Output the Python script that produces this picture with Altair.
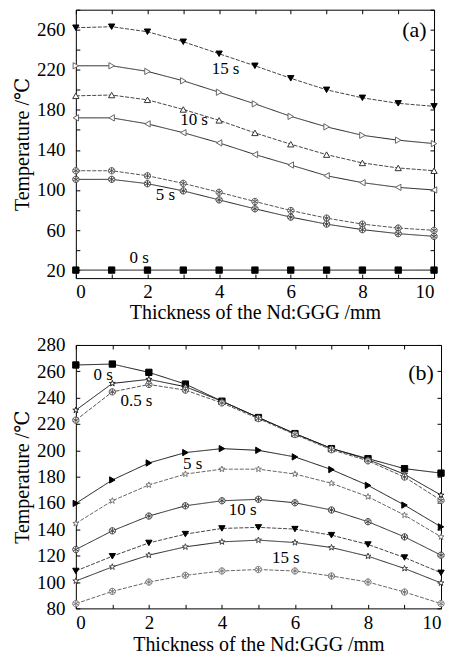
import altair as alt
import pandas as pd

thickness = [0, 1, 2, 3, 4, 5, 6, 7, 8, 9, 10]

# ---- panel (a) ----
a_names = ["a15", "a12", "a10", "a8", "a5u", "a5l", "a0"]
a_15 = [262, 263, 258, 248, 236, 224, 211.5, 200, 192, 186.5, 183.5]
a_12 = [224, 224, 218.4, 209, 197.6, 186, 173.5, 163, 154.6, 149.7, 146.3]
a_10 = [194, 194.8, 190, 180.4, 169.5, 157, 145.7, 135.3, 127, 122, 119.2]
a_8 = [172, 172, 166, 157.2, 147, 135.4, 124.9, 114.2, 107.3, 102.6, 100]
a_5u = [119.2, 119.2, 114.2, 106.6, 97.7, 88.5, 79.5, 71.9, 65.9, 62, 59.7]
a_5l = [110.6, 110.6, 106.3, 99.1, 90.1, 81.2, 72.9, 65.9, 60.4, 56.4, 53.7]
a_0 = [20, 20, 20, 20, 20, 20, 20, 20, 20, 20, 20]
a_ann_text = ["15 s", "10 s", "5 s", "0 s"]
a_ann_x = [4.18, 3.3, 2.5, 1.77]
a_ann_y = [220.4, 170, 95.4, 32]

# ---- panel (b) ----
b_names = ["b0", "b02", "b05", "b5", "b7", "b10", "b12", "b13", "b15"]
b_0 = [264.8, 265.5, 259.2, 250.3, 237.3, 224.9, 212.7, 201.3, 193.7, 186.1, 182.7]
b_02 = [230.5, 250.8, 253.9, 248.3, 237.3, 224.9, 212.7, 201.5, 193, 181.8, 166]
b_05 = [222.9, 244.4, 250, 245.7, 236, 224.1, 212, 200.5, 192, 179.7, 162]
b_5 = [159.7, 177.5, 190.4, 198.3, 201.3, 200, 195, 185.4, 173.4, 158.4, 141.9]
b_7 = [144.5, 161.7, 173.7, 182, 185.7, 185.7, 182, 175, 164.8, 150.8, 134.3]
b_10 = [124.7, 138.9, 150.1, 157.9, 161.7, 162.8, 160.2, 154.7, 145.8, 134.3, 120.4]
b_12 = [108.4, 119.6, 129.7, 136.4, 140.7, 141.5, 140.2, 135.6, 128.5, 118.6, 107]
b_13 = [100.8, 111.5, 120.4, 126.7, 130.5, 131.8, 130, 126.2, 119.6, 110.3, 99.3]
b_15 = [83.6, 92.9, 100, 105.1, 108.4, 109.5, 108.4, 104.6, 100, 92.4, 83.6]
b_ann_text = ["0 s", "0.5 s", "5 s", "10 s", "15 s"]
b_ann_x = [0.75, 1.66, 3.2, 4.57, 5.75]
b_ann_y = [257, 237.3, 189.4, 154.9, 118]

STAR = "M0,-1L0.24,-0.31L0.95,-0.31L0.38,0.12L0.59,0.81L0,0.4L-0.59,0.81L-0.38,0.12L-0.95,-0.31L-0.24,-0.31Z"
CSTAR = "M1,0A1,1 0 1,1 -1,0A1,1 0 1,1 1,0Z M0,-1L0,1 M-0.87,-0.5L0.87,0.5 M-0.87,0.5L0.87,-0.5"
SERIF = "'Liberation Serif', 'DejaVu Serif', 'Times New Roman', serif"


def make_df(names, series):
    rows = []
    for n, vals in zip(names, series):
        for x, t in zip(thickness, vals):
            rows.append({"x": x, "T": t, "s": n})
    return pd.DataFrame(rows)


def panel(df, names, shapes, fills, strokes, lcolors, dashes, ydom, ylab, yticks,
          ann, tag, w, h, xlp, xtp):
    xs = alt.Scale(domain=[0, 10], nice=False, zero=False)
    ys = alt.Scale(domain=ydom, nice=False, zero=False)
    xlab = alt.Axis(orient="bottom", values=[0, 2, 4, 6, 8, 10], tickSize=0, domain=False,
                    grid=False, labelPadding=xlp, title="Thickness of the Nd:GGG /mm",
                    titlePadding=xtp, format="d")
    ylaba = alt.Axis(orient="left", values=ylab, tickSize=0, domain=False, grid=False,
                     labelPadding=11, title="Temperature /℃", titlePadding=4, format="d")
    lines = alt.Chart(df).mark_line(strokeWidth=1).encode(
        x=alt.X("x:Q", scale=xs, axis=xlab),
        y=alt.Y("T:Q", scale=ys, axis=ylaba),
        detail="s:N",
        color=alt.Color("s:N", scale=alt.Scale(domain=names, range=lcolors), legend=None),
        strokeDash=alt.StrokeDash("s:N", scale=alt.Scale(domain=names, range=dashes), legend=None),
    )
    pts = alt.Chart(df).mark_point(filled=True, size=40, strokeWidth=1, opacity=1).encode(
        x=alt.X("x:Q", scale=xs, axis=None),
        y=alt.Y("T:Q", scale=ys, axis=None),
        shape=alt.Shape("s:N", scale=alt.Scale(domain=names, range=shapes), legend=None),
        fill=alt.Fill("s:N", scale=alt.Scale(domain=names, range=fills), legend=None),
        stroke=alt.Stroke("s:N", scale=alt.Scale(domain=names, range=strokes), legend=None),
    )
    adf = pd.DataFrame({"x": ann[1], "T": ann[2], "t": ann[0]})
    txt = alt.Chart(adf).mark_text(font=SERIF, fontSize=17, align="center", baseline="middle",
                                   color="black").encode(
        x=alt.X("x:Q", scale=xs, axis=None), y=alt.Y("T:Q", scale=ys, axis=None), text="t:N")
    tdf = pd.DataFrame({"x": [9.45], "T": [tag[1]], "t": [tag[0]]})
    tg = alt.Chart(tdf).mark_text(font=SERIF, fontSize=22, align="center", baseline="middle",
                                  color="black").encode(
        x=alt.X("x:Q", scale=xs, axis=None), y=alt.Y("T:Q", scale=ys, axis=None), text="t:N")

    def tick_layer(xo, yo):
        return alt.Chart(df).mark_point(opacity=0).encode(
            x=alt.X("x:Q", scale=xs, axis=alt.Axis(orient=xo, offset=-4, tickSize=4, values=thickness,
                                                   labels=False, domain=False, grid=False, title=None,
                                                   tickColor="black", tickWidth=1)),
            y=alt.Y("T:Q", scale=ys, axis=alt.Axis(orient=yo, offset=-4, tickSize=4, values=yticks,
                                                   labels=False, domain=False, grid=False, title=None,
                                                   tickColor="black", tickWidth=1)),
        )

    return alt.layer(lines, pts, txt, tg, tick_layer("bottom", "left"), tick_layer("top", "right")).resolve_axis(
        x="independent", y="independent").properties(width=w, height=h)


a_df = make_df(a_names, [a_15, a_12, a_10, a_8, a_5u, a_5l, a_0])
b_df = make_df(b_names, [b_0, b_02, b_05, b_5, b_7, b_10, b_12, b_13, b_15])

top = panel(
    a_df, a_names,
    shapes=["triangle-down", "triangle-right", "triangle-up", "triangle-left", CSTAR, CSTAR, "square"],
    fills=["black", "white", "white", "white", "white", "white", "black"],
    strokes=["black", "#666", "#333", "#666", "#555", "#444", "black"],
    lcolors=["#444", "#222", "#444", "#222", "#555", "#222", "#111"],
    dashes=[[4, 1.5], [1, 0], [4, 1.5], [1, 0], [4, 1.5], [1, 0], [1, 0]],
    ydom=[12, 280], ylab=[20, 60, 100, 140, 180, 220, 260],
    yticks=[20, 40, 60, 80, 100, 120, 140, 160, 180, 200, 220, 240, 260, 280],
    ann=(a_ann_text, a_ann_x, a_ann_y), tag=("(a)", 260), w=359, h=269, xlp=4, xtp=1)

bottom = panel(
    b_df, b_names,
    shapes=["square", STAR, CSTAR, "triangle-right", STAR, CSTAR, "triangle-down", STAR, CSTAR],
    fills=["black", "white", "white", "black", "white", "white", "black", "white", "white"],
    strokes=["black", "#222", "#555", "black", "#777", "#444", "black", "#444", "#777"],
    lcolors=["#111", "#111", "#555", "#111", "#666", "#222", "#444", "#222", "#666"],
    dashes=[[1, 0], [1, 0], [4, 1.5], [1, 0], [4, 1.5], [1, 0], [4, 1.5], [1, 0], [4, 1.5]],
    ydom=[80, 280], ylab=[80, 100, 120, 140, 160, 180, 200, 220, 240, 260, 280],
    yticks=[80, 100, 120, 140, 160, 180, 200, 220, 240, 260, 280],
    ann=(b_ann_text, b_ann_x, b_ann_y), tag=("(b)", 258.7), w=366, h=264, xlp=5, xtp=2)

chart = alt.vconcat(top, bottom, spacing=67, bounds="flush").resolve_scale(
    color="independent", shape="independent", fill="independent", stroke="independent",
    strokeDash="independent",
).properties(
    padding={"left": 12, "top": 8, "right": 5, "bottom": 0},
    background="white",
).configure_view(stroke="black", strokeWidth=1).configure_axis(
    labelFont=SERIF, labelFontSize=19, labelColor="black",
    titleFont=SERIF, titleFontSize=20, titleFontWeight="normal", titleColor="black",
)

chart.save("out.html", embed_options={"renderer": "svg", "actions": False})
